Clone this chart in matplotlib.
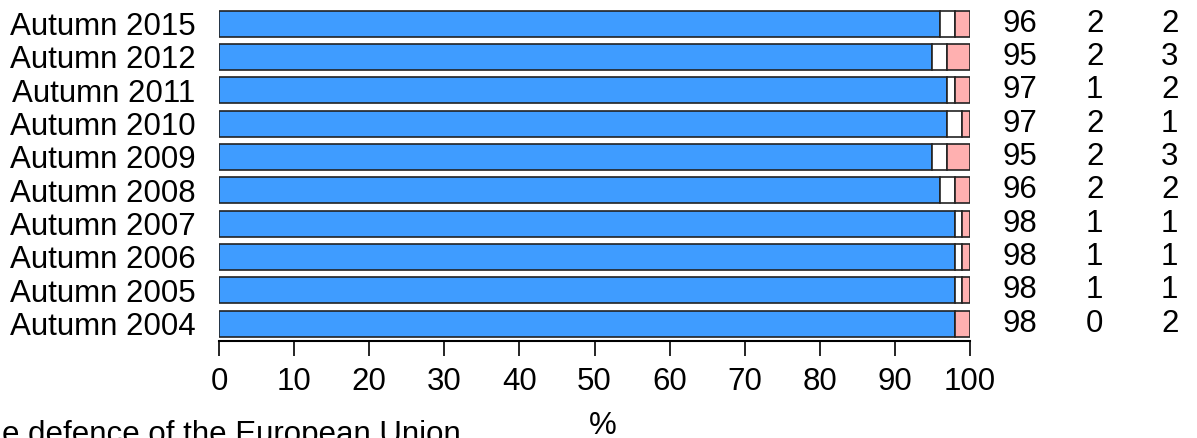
import matplotlib
matplotlib.use("Agg")
import matplotlib.pyplot as plt
import numpy as np

plt.rcParams['font.family'] = ['Liberation Sans', 'DejaVu Sans']

waves = ["Autumn 2004", "Autumn 2005", "Autumn 2006", "Autumn 2007", "Autumn 2008",
         "Autumn 2009", "Autumn 2010", "Autumn 2011", "Autumn 2012", "Autumn 2015"]
blue = [98, 98, 98, 98, 96, 95, 97, 97, 95, 96]
white = [0, 1, 1, 1, 2, 2, 2, 1, 2, 2]
pink = [2, 1, 1, 1, 2, 3, 1, 2, 3, 2]
xticks = [0, 10, 20, 30, 40, 50, 60, 70, 80, 90, 100]

FS = 22.5
W, H = 1197, 438
fig = plt.figure(figsize=(W / 100, H / 100), dpi=100)
ax = fig.add_axes([219 / W, (H - 341) / H, (970 - 219) / W, 341 / H])

y = np.arange(len(waves))
b = np.array(blue)
w = np.array(white)
p = np.array(pink)
kw = dict(height=0.78, edgecolor='#222222', linewidth=1.2)
ax.barh(y, b, color='#3f9cff', **kw)
ax.barh(y, w, left=b, color='white', **kw)
ax.barh(y, p, left=b + w, color='#ffb0b0', **kw)

ax.set_xlim(0, 100)
ax.set_ylim(-0.525, 9.705)
ax.set_yticks(y)
ax.set_yticklabels(waves, fontsize=FS)
ax.tick_params(axis='y', length=0, pad=17)
ax.set_xticks(xticks)
ax.set_xticklabels([str(t) for t in xticks], fontsize=FS)
ax.tick_params(axis='x', length=11, width=1.2, pad=8)
for s in ['top', 'right', 'left']:
    ax.spines[s].set_visible(False)
ax.spines['bottom'].set_linewidth(1.5)
ax.set_xlabel('%', fontsize=FS)
ax.xaxis.set_label_coords(0.511, -0.205)

for i in range(len(waves)):
    for xpos, val in zip([106.7, 116.6, 126.6], [blue[i], white[i], pink[i]]):
        ax.text(xpos, y[i], str(val), ha='center', va='center', fontsize=FS, clip_on=False)

fig.text(461 / W, (H - 443) / H, "Support for the defence of the European Union",
         ha='right', va='baseline', fontsize=FS)

fig.savefig("out.png", dpi=100)
